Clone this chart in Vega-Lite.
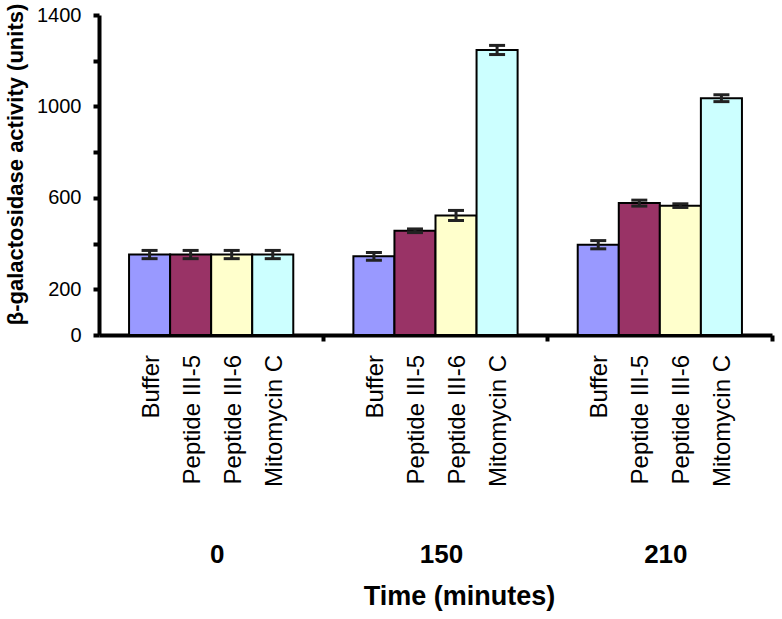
{
  "$schema": "https://vega.github.io/schema/vega-lite/v6.json",
  "autosize": {"type": "none"},
  "width": 673,
  "height": 320,
  "padding": {"left": 99, "top": 15, "right": 10, "bottom": 284},
  "background": "white",
  "config": {"view": {"stroke": null}, "font": "Liberation Sans"},
  "data": {
    "values": [
      {"time": "0", "treatment": "Buffer", "value": 352, "lo": 334, "hi": 370},
      {"time": "0", "treatment": "Peptide III-5", "value": 352, "lo": 334, "hi": 370},
      {"time": "0", "treatment": "Peptide III-6", "value": 352, "lo": 334, "hi": 370},
      {"time": "0", "treatment": "Mitomycin C", "value": 352, "lo": 334, "hi": 370},
      {"time": "150", "treatment": "Buffer", "value": 344, "lo": 327, "hi": 361},
      {"time": "150", "treatment": "Peptide III-5", "value": 456, "lo": 448, "hi": 464},
      {"time": "150", "treatment": "Peptide III-6", "value": 523, "lo": 501, "hi": 545},
      {"time": "150", "treatment": "Mitomycin C", "value": 1247, "lo": 1227, "hi": 1267},
      {"time": "210", "treatment": "Buffer", "value": 395, "lo": 377, "hi": 413},
      {"time": "210", "treatment": "Peptide III-5", "value": 577, "lo": 564, "hi": 590},
      {"time": "210", "treatment": "Peptide III-6", "value": 566, "lo": 558, "hi": 574},
      {"time": "210", "treatment": "Mitomycin C", "value": 1036, "lo": 1021, "hi": 1051}
    ]
  },
  "encoding": {
    "x": {
      "field": "time",
      "type": "nominal",
      "sort": ["0", "150", "210"],
      "scale": {"domain": ["0", "150", "210"], "paddingInner": 0, "paddingOuter": 0},
      "axis": {
        "title": "Time (minutes)",
        "bandPosition": 1,
        "labelAngle": 0,
        "labelFontSize": 26,
        "labelFontWeight": "bold",
        "labelColor": "black",
        "labelOffset": 6,
        "labelPadding": 200,
        "tickSize": 6,
        "tickWidth": 4,
        "tickColor": "black",
        "domainColor": "black",
        "domainWidth": 4,
        "grid": false,
        "titleFontSize": 27,
        "titleFontWeight": "bold",
        "titleColor": "black",
        "titleX": 360,
        "titleY": 269,
        "titleBaseline": "alphabetic",
        "titleAlign": "center"
      }
    },
    "xOffset": {
      "field": "treatment",
      "type": "nominal",
      "scale": {"domain": ["Buffer", "Peptide III-5", "Peptide III-6", "Mitomycin C"], "paddingInner": 0, "paddingOuter": 0.732}
    }
  },
  "layer": [
    {
      "mark": {"type": "bar", "stroke": "black", "strokeWidth": 2},
      "encoding": {
        "y": {
          "field": "value",
          "type": "quantitative",
          "title": "β-galactosidase activity (units)",
          "scale": {"domain": [0, 1400], "nice": false},
          "axis": {
            "values": [0, 200, 400, 600, 800, 1000, 1200, 1400],
            "format": "d",
            "labelExpr": "datum.value == 0 || datum.value % 400 == 200 ? datum.label : ''",
            "labelFontSize": 20,
            "labelColor": "black",
            "labelPadding": 12,
            "tickSize": 6,
            "tickWidth": 4,
            "tickColor": "black",
            "domainColor": "black",
            "domainWidth": 4,
            "grid": false,
            "titleFontSize": 22,
            "titleFontWeight": "bold",
            "titleColor": "black",
            "titleX": -84,
            "titleY": 149,
            "titleAngle": 270,
            "titleBaseline": "middle",
            "titleAlign": "center"
          }
        },
        "color": {
          "field": "treatment",
          "type": "nominal",
          "scale": {"domain": ["Buffer", "Peptide III-5", "Peptide III-6", "Mitomycin C"], "range": ["#9999FF", "#993366", "#FFFFCC", "#CCFFFF"]},
          "legend": null
        }
      }
    },
    {
      "mark": {"type": "rule", "color": "#222222", "strokeWidth": 3},
      "encoding": {
        "y": {"field": "lo", "type": "quantitative", "title": "β-galactosidase activity (units)"},
        "y2": {"field": "hi"}
      }
    },
    {
      "mark": {"type": "tick", "color": "#222222", "thickness": 3, "size": 16, "opacity": 1},
      "encoding": {
        "y": {"field": "lo", "type": "quantitative", "title": "β-galactosidase activity (units)"}
      }
    },
    {
      "mark": {"type": "tick", "color": "#222222", "thickness": 3, "size": 16, "opacity": 1},
      "encoding": {
        "y": {"field": "hi", "type": "quantitative", "title": "β-galactosidase activity (units)"}
      }
    },
    {
      "mark": {"type": "text", "angle": 270, "align": "right", "baseline": "middle", "dx": -20, "dy": 2, "fontSize": 24, "color": "black"},
      "encoding": {
        "y": {"datum": 0, "type": "quantitative", "title": "β-galactosidase activity (units)"},
        "text": {"field": "treatment"}
      }
    }
  ]
}
